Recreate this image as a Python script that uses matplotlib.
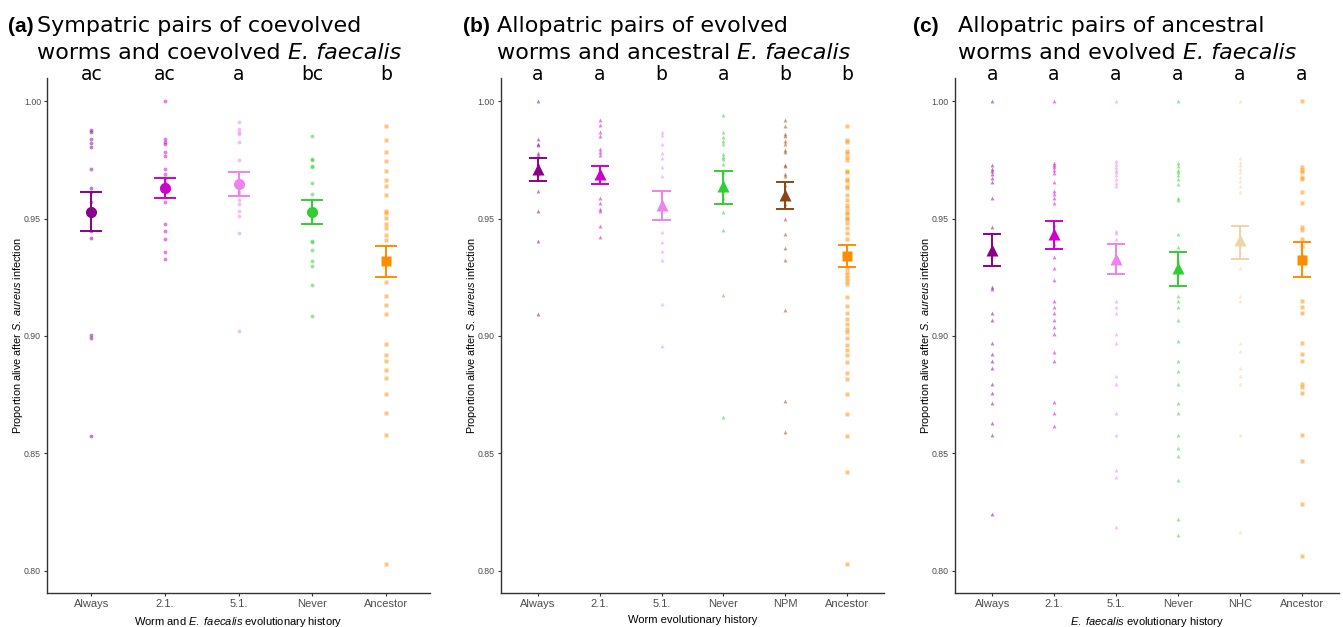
import numpy as np
import matplotlib
matplotlib.use("Agg")
import matplotlib.pyplot as plt

plt.rcParams['font.family'] = ['Liberation Sans', 'DejaVu Sans']
plt.rcParams['mathtext.fontset'] = 'custom'
plt.rcParams['mathtext.it'] = 'Liberation Sans:italic'
plt.rcParams['mathtext.rm'] = 'Liberation Sans'

# ---- panel (a): sympatric pairs ----
a_cats = ['Always', '2.1.', '5.1.', 'Never', 'Ancestor']
a_always = [0.9878, 0.9871, 0.9838, 0.9822, 0.9805, 0.9710, 0.9629, 0.9612, 0.9571,
            0.9446, 0.9418, 0.9004, 0.8992, 0.8575]
a_21 = [1.000, 0.9838, 0.9828, 0.9820, 0.9786, 0.9767, 0.9710, 0.9690, 0.9675, 0.9650,
        0.9571, 0.9477, 0.9446, 0.9412, 0.9359, 0.9329]
a_51 = [0.9912, 0.9883, 0.9871, 0.9860, 0.9828, 0.9749, 0.9615, 0.9601, 0.9578, 0.9561,
        0.9534, 0.9512, 0.9440, 0.9022]
a_never = [0.9853, 0.9755, 0.9748, 0.9724, 0.9718, 0.9650, 0.9607, 0.9405, 0.9399, 0.9366,
           0.9321, 0.9296, 0.9219, 0.9085]
a_anc = [0.9896, 0.9834, 0.9786, 0.9745, 0.9705, 0.9664, 0.9638, 0.9601, 0.9531, 0.9522,
         0.9504, 0.9477, 0.9462, 0.9430, 0.9408, 0.9232, 0.9170, 0.9133, 0.9093, 0.8965,
         0.8918, 0.8895, 0.8854, 0.8821, 0.8754, 0.8673, 0.8576, 0.8029]
a_mean = [0.9529, 0.9629, 0.9648, 0.9528, 0.9320]
a_upper = [0.9615, 0.9673, 0.9700, 0.9578, 0.9385]
a_lower = [0.9448, 0.9587, 0.9595, 0.9477, 0.9252]
a_letters = ['ac', 'ac', 'a', 'bc', 'b']

# ---- panel (b): evolved worms x ancestral E. faecalis ----
b_cats = ['Always', '2.1.', '5.1.', 'Never', 'NPM', 'Ancestor']
b_always = [1.000, 0.9838, 0.9819, 0.9812, 0.9779, 0.9771, 0.9734, 0.9702, 0.9690,
            0.9619, 0.9534, 0.9404, 0.9092]
b_21 = [0.9920, 0.9898, 0.9868, 0.9850, 0.9797, 0.9786, 0.9771, 0.9589, 0.9568, 0.9542,
        0.9534, 0.9467, 0.9423]
b_51 = [0.9868, 0.9856, 0.9819, 0.9779, 0.9757, 0.9720, 0.9682, 0.9579, 0.9549, 0.9445,
        0.9401, 0.9363, 0.9322, 0.9138, 0.8958]
b_never = [0.9942, 0.9871, 0.9846, 0.9831, 0.9819, 0.9774, 0.9764, 0.9754, 0.9731, 0.9697,
           0.9660, 0.9616, 0.9586, 0.9527, 0.9450, 0.9175, 0.8656]
b_npm = [0.9920, 0.9895, 0.9861, 0.9850, 0.9831, 0.9816, 0.9794, 0.9782, 0.9730, 0.9723,
         0.9690, 0.9682, 0.9645, 0.9616, 0.9564, 0.9497, 0.9435, 0.9375, 0.9323, 0.9111,
         0.8723, 0.8592]
b_anc = [0.9896, 0.9834, 0.9826, 0.9789, 0.9779, 0.9764, 0.9749, 0.9705, 0.9697, 0.9668,
         0.9660, 0.9638, 0.9631, 0.9601, 0.9579, 0.9556, 0.9545, 0.9530, 0.9519, 0.9504,
         0.9497, 0.9482, 0.9460, 0.9438, 0.9415, 0.9289, 0.9274, 0.9260, 0.9245, 0.9233,
         0.9223, 0.9168, 0.9129, 0.9096, 0.9074, 0.9052, 0.9030, 0.9015, 0.8993, 0.8963,
         0.8941, 0.8918, 0.8889, 0.8844, 0.8818, 0.8751, 0.8666, 0.8573, 0.8421, 0.8028]
b_mean = [0.9712, 0.9690, 0.9556, 0.9638, 0.9601, 0.9341]
b_upper = [0.9760, 0.9724, 0.9619, 0.9705, 0.9654, 0.9387]
b_lower = [0.9660, 0.9647, 0.9493, 0.9562, 0.9539, 0.9294]
b_letters = ['a', 'a', 'b', 'a', 'b', 'b']

# ---- panel (c): ancestral worms x evolved E. faecalis ----
c_cats = ['Always', '2.1.', '5.1.', 'Never', 'NHC', 'Ancestor']
c_always = [1.000, 0.9727, 0.9712, 0.9702, 0.9690, 0.9675, 0.9657, 0.9586, 0.9463, 0.9349,
            0.9207, 0.9200, 0.9096, 0.9066, 0.8970, 0.8925, 0.8895, 0.8863, 0.8794, 0.8757,
            0.8714, 0.8628, 0.8579, 0.8241]
c_21 = [1.000, 0.9739, 0.9727, 0.9720, 0.9707, 0.9693, 0.9656, 0.9618, 0.9603, 0.9586,
        0.9566, 0.9474, 0.9393, 0.9336, 0.9289, 0.9237, 0.9148, 0.9125, 0.9096, 0.9069,
        0.9039, 0.9007, 0.8932, 0.8895, 0.8717, 0.8673, 0.8618]
c_51 = [1.000, 0.9745, 0.9734, 0.9722, 0.9707, 0.9697, 0.9685, 0.9670, 0.9653, 0.9638,
        0.9449, 0.9437, 0.9415, 0.9148, 0.9125, 0.9096, 0.9007, 0.8970, 0.8829, 0.8794,
        0.8673, 0.8579, 0.8428, 0.8398, 0.8187]
c_never = [1.000, 0.9739, 0.9724, 0.9707, 0.9697, 0.9685, 0.9667, 0.9648, 0.9589, 0.9578,
           0.9433, 0.9378, 0.9318, 0.9274, 0.9170, 0.9148, 0.9123, 0.9066, 0.8980, 0.8895,
           0.8851, 0.8794, 0.8714, 0.8673, 0.8579, 0.8524, 0.8490, 0.8387, 0.8220, 0.8153]
c_nhc = [1.000, 0.9757, 0.9742, 0.9727, 0.9712, 0.9697, 0.9678, 0.9660, 0.9638, 0.9615,
         0.9452, 0.9385, 0.9356, 0.9289, 0.9170, 0.9148, 0.8970, 0.8935, 0.8863, 0.8829,
         0.8794, 0.8579, 0.8163]
c_anc = [1.000, 0.9722, 0.9707, 0.9697, 0.9678, 0.9670, 0.9615, 0.9566, 0.9463, 0.9452,
         0.9415, 0.9385, 0.9341, 0.9148, 0.9123, 0.9096, 0.8970, 0.8925, 0.8895, 0.8794,
         0.8784, 0.8757, 0.8579, 0.8468, 0.8282, 0.8064]
c_mean = [0.9367, 0.9433, 0.9329, 0.9289, 0.9408, 0.9324]
c_upper = [0.9434, 0.9489, 0.9393, 0.9356, 0.9470, 0.9400]
c_lower = [0.9296, 0.9370, 0.9264, 0.9215, 0.9330, 0.9252]
c_letters = ['a', 'a', 'a', 'a', 'a', 'a']

col = {'Always': '#8B008B', '2.1.': '#CD00CD', '5.1.': '#EE82EE', 'Never': '#32CD32',
       'NPM': '#8B4513', 'NHC': '#EED5A8', 'Ancestor': '#FF8C00'}


def panel(ax, cats, groups, means, upper, lower, letters, marker, xlabel):
    for i, (cat, vals) in enumerate(zip(cats, groups)):
        x = i + 1
        c = col[cat]
        m = 's' if cat == 'Ancestor' else marker
        ax.plot([x] * len(vals), vals, ls='none', marker=m, ms=2.8, color=c,
                alpha=0.5, mec='none')
        ax.vlines(x, lower[i], upper[i], color=c, lw=1.4)
        ax.hlines([lower[i], upper[i]], x - 0.15, x + 0.15, color=c, lw=1.4)
        msize = {'o': 8, '^': 9, 's': 7.2}[m]
        ax.plot(x, means[i], marker=m, ms=msize, color=c, mec='none')
        ax.text(x, 1.008, letters[i], transform=ax.get_xaxis_transform(),
                ha='center', va='center', fontsize=13.5, family='DejaVu Sans',
                clip_on=False)
    ax.set_xlim(0.4, len(cats) + 0.6)
    ax.set_ylim(0.7905, 1.0098)
    ax.set_xticks(range(1, len(cats) + 1))
    ax.set_xticklabels(cats, fontsize=8, color='#4D4D4D')
    ax.set_yticks([0.80, 0.85, 0.90, 0.95, 1.00])
    ax.set_yticklabels(['0.80', '0.85', '0.90', '0.95', '1.00'], fontsize=6.3,
                       color='#4D4D4D')
    for s in ['top', 'right']:
        ax.spines[s].set_visible(False)
    for s in ['left', 'bottom']:
        ax.spines[s].set_color('#333333')
        ax.spines[s].set_linewidth(1.0)
    ax.tick_params(length=2.5, width=0.8, color='#333333', pad=2)
    ax.set_xlabel(xlabel, fontsize=8, labelpad=4)
    ax.set_ylabel(r'Proportion alive after $\it{S.}$ $\it{aureus}$ infection', fontsize=7.8)
    ax.yaxis.set_label_coords(-0.058, 0.5)


fig = plt.figure(figsize=(13.43, 6.27), dpi=100)
W, H = 1343, 627
bot = (H - 592.9) / H
hgt = (592.9 - 78.3) / H
ax_a = fig.add_axes([47.3 / W, bot, 382.7 / W, hgt])
ax_b = fig.add_axes([501 / W, bot, 383 / W, hgt])
ax_c = fig.add_axes([955 / W, bot, 384 / W, hgt])

panel(ax_a, a_cats, [a_always, a_21, a_51, a_never, a_anc], a_mean, a_upper, a_lower,
      a_letters, 'o', r'Worm and $\it{E.}$ $\it{faecalis}$ evolutionary history')
panel(ax_b, b_cats, [b_always, b_21, b_51, b_never, b_npm, b_anc], b_mean, b_upper,
      b_lower, b_letters, '^', 'Worm evolutionary history')
panel(ax_c, c_cats, [c_always, c_21, c_51, c_never, c_nhc, c_anc], c_mean, c_upper,
      c_lower, c_letters, '^', r'$\it{E.}$ $\it{faecalis}$ evolutionary history')

# titles: bold panel tag, two lines, italic species name at the end
titles = [
    (8, 37, '(a)', 'Sympatric pairs of coevolved', 'worms and coevolved '),
    (463, 497, '(b)', 'Allopatric pairs of evolved', 'worms and ancestral '),
    (913, 958, '(c)', 'Allopatric pairs of ancestral', 'worms and evolved '),
]
renderer = fig.canvas.get_renderer()
for xl, xt, lab, l1, l2 in titles:
    fig.text(xl / W, (H - 31.5) / H, lab, fontsize=15, fontweight='bold',
             family='Liberation Sans', va='baseline')
    fig.text(xt / W, (H - 31.5) / H, l1, fontsize=16, family='DejaVu Sans', va='baseline')
    t2 = fig.text(xt / W, (H - 59) / H, l2, fontsize=16, family='DejaVu Sans',
                  va='baseline')
    bb = t2.get_window_extent(renderer)
    fig.text(bb.x1 / W, (H - 59) / H, 'E. faecalis', fontsize=16, family='DejaVu Sans',
             style='italic', va='baseline')

fig.savefig('out.png', dpi=100)
